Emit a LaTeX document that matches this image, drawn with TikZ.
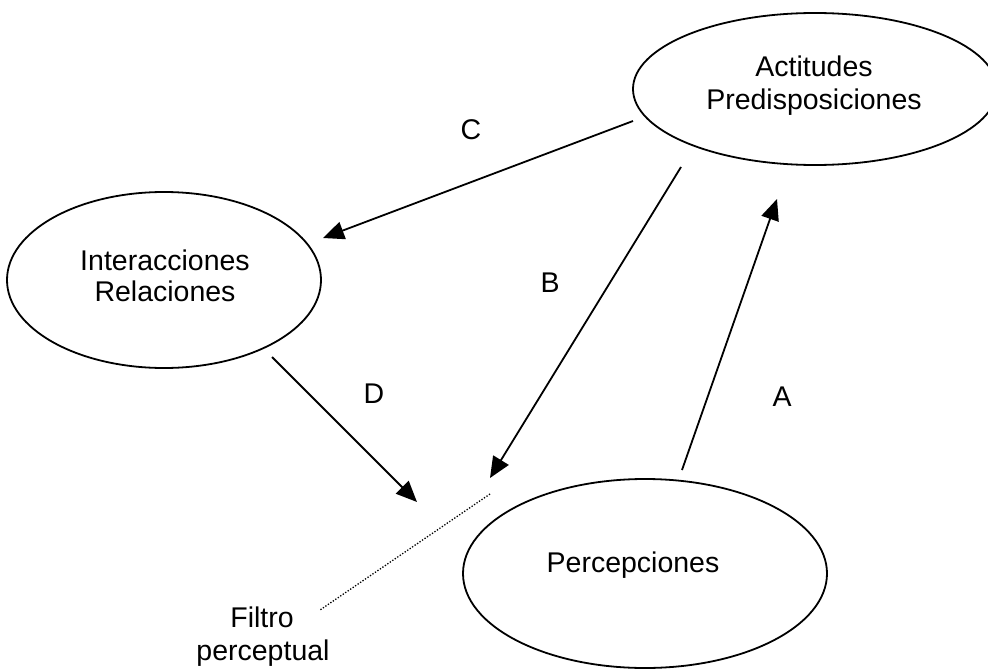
\documentclass[tikz,border=0pt]{standalone}
\usepackage{fontspec}
\setmainfont{Liberation Sans}
\usetikzlibrary{shapes.geometric,arrows.meta}
\begin{document}
\begin{tikzpicture}[x=1pt,y=-1pt,
  oval/.style={draw=black, line width=1.8pt, ellipse, inner sep=0pt, outer sep=0pt},
  txt/.style={anchor=base, inner sep=0pt, font=\fontsize{28.5}{34}\selectfont},
  conn/.style={line width=1.8pt, -{Triangle[length=21pt,width=18pt]}},
  filt/.style={line width=1.3pt, dash pattern=on 1.3pt off 1.7pt}]
\useasboundingbox (0,0) rectangle (988,669);
\clip (0,0) rectangle (988,669);
% ellipses
\node[oval, minimum width=364pt, minimum height=152pt] (act) at (815,89) {};
\node[oval, minimum width=314pt, minimum height=176pt] (inter) at (164,280) {};
\node[oval, minimum width=364pt, minimum height=189pt] (perc) at (645,573.5) {};
% texts
\node[txt] (actA) at (814,77) {Actitudes};
\node[txt] (actB) at (814,110) {Predisposiciones};
\node[txt] (intA) at (165,270) {Interacciones};
\node[txt] (intB) at (165,301) {Relaciones};
\node[txt] (perA) at (633,572) {Percepciones};
\node[txt] (lC) at (471,139) {C};
\node[txt] (lB) at (550,292) {B};
\node[txt] (lA) at (782,406) {A};
\node[txt] (lD) at (374,403) {D};
\node[txt] (filA) at (262,627) {Filtro};
\node[txt] (filB) at (263,660) {perceptual};
% connector ends
\coordinate (cS) at (633,121);
\coordinate (cE) at (323,238);
\coordinate (bS) at (681,167);
\coordinate (bE) at (490,478);
\coordinate (aS) at (682,470);
\coordinate (aE) at (777,199);
\coordinate (dS) at (272,357);
\coordinate (dE) at (417,502);
\coordinate (fS) at (490,494);
\coordinate (fE) at (320,610);
% connectors
\draw[conn] (cS) -- (cE);
\draw[conn] (bS) -- (bE);
\draw[conn] (aS) -- (aE);
\draw[conn] (dS) -- (dE);
\draw[filt] (fS) -- (fE);
\end{tikzpicture}
\end{document}
